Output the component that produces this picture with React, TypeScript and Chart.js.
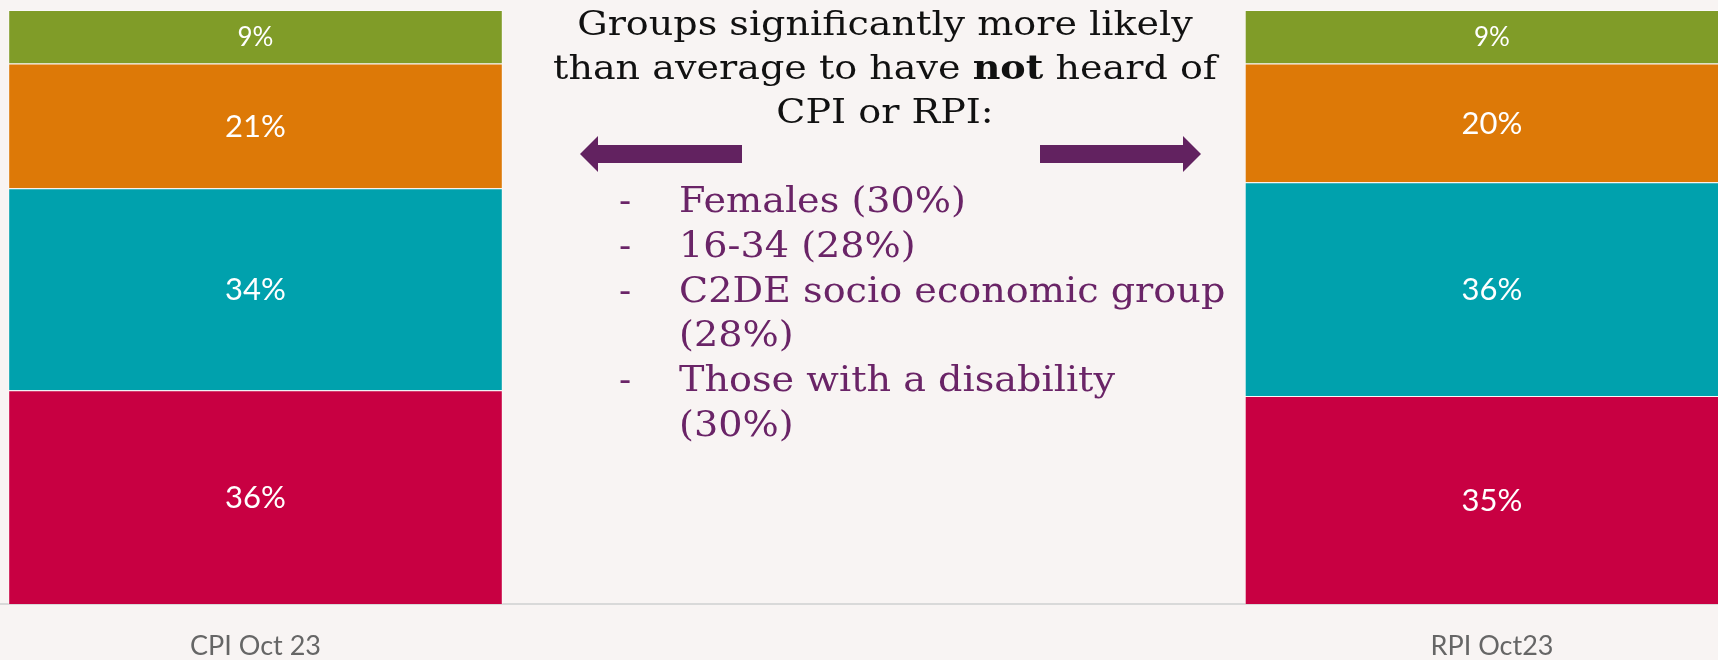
import React, { useEffect, useRef } from "react";
import { Chart, registerables } from "chart.js";

Chart.register(...registerables);

// ---- data ----
const categories: string[] = ["CPI Oct 23", "RPI Oct23"];
const seriesNames: string[] = ["Segment 1", "Segment 2", "Segment 3", "Segment 4"];
const series1Values: number[] = [36, 35]; // bottom (crimson)
const series2Values: number[] = [34, 36]; // teal
const series3Values: number[] = [21, 20]; // orange
const series4Values: number[] = [9, 9]; // top (green)
const seriesColors: string[] = ["#C80042", "#00A1AD", "#DD7907", "#809C28"];

const titleLines: string[] = ["Groups significantly more likely", "than average to have ", "CPI or RPI:"];
const bulletLines: string[][] = [
  ["Females (30%)"],
  ["16-34 (28%)"],
  ["C2DE socio economic group", "(28%)"],
  ["Those with a disability", "(30%)"],
];

const W = 1718;
const H = 660;

const segLabels = {
  id: "segLabels",
  afterDatasetsDraw(chart: any) {
    const ctx = chart.ctx;
    ctx.save();
    ctx.fillStyle = "#ffffff";
    ctx.textAlign = "center";
    ctx.textBaseline = "middle";
    chart.data.datasets.forEach((ds: any, di: number) => {
      const meta = chart.getDatasetMeta(di);
      meta.data.forEach((el: any, i: number) => {
        const v = ds.data[i].y;
        const p = el.getProps(["x", "y", "base"], true);
        ctx.font = `${v < 10 ? 26 : 31}px Lato`;
        ctx.fillText(v + "%", p.x, (p.y + p.base) / 2 + 1);
      });
    });
    ctx.restore();
  },
};

export default function App() {
  const ref = useRef<HTMLCanvasElement | null>(null);

  useEffect(() => {
    if (!ref.current) return;
    const all = [series1Values, series2Values, series3Values, series4Values];
    const chart = new Chart(ref.current, {
      type: "bar",
      data: {
        datasets: all.map((vals, k) => ({
          label: seriesNames[k],
          data: vals.map((v, i) => ({ x: i, y: v })),
          backgroundColor: seriesColors[k],
          borderColor: "rgba(255,255,255,0.45)",
          borderWidth: 1,
          stack: "s",
          categoryPercentage: 0.5,
          barPercentage: 0.8,
        })),
      },
      options: {
        responsive: false,
        animation: false,
        layout: { padding: { top: 10, bottom: 0, left: 0, right: 0 } },
        plugins: { legend: { display: false }, tooltip: { enabled: false } },
        scales: {
          x: {
            type: "linear",
            offset: false,
            min: -255.5 / 1236.5,
            max: (W - 255.5) / 1236.5,
            grid: { display: false, drawTicks: false, offset: false },
            border: { display: true, color: "#D9D9D9", width: 2 },
            afterBuildTicks: (s: any) => {
              s.ticks = categories.map((_, i) => ({ value: i }));
            },
            afterFit: (s: any) => {
              s.height = 56;
            },
            ticks: {
              autoSkip: false,
              maxRotation: 0,
              padding: 26,
              color: "#666666",
              font: { family: "Lato", size: 27 },
              callback: (v: any) => categories[v as number] ?? "",
            },
          },
          y: {
            display: false,
            stacked: true,
            min: 0,
            max: 100,
          },
        },
      },
      plugins: [segLabels],
    } as any);
    return () => chart.destroy();
  }, []);

  const serif = '"DejaVu Serif", serif';

  return (
    <div
      style={{
        position: "fixed",
        left: 0,
        top: 0,
        width: W,
        height: H,
        background: "#F8F4F3",
        overflow: "hidden",
      }}
    >
      <canvas ref={ref} width={W} height={H} style={{ position: "absolute", left: 0, top: 0, width: W, height: H }} />
      <div
        style={{
          position: "absolute",
          left: 885 - 450,
          top: 1,
          width: 900,
          textAlign: "center",
          fontFamily: serif,
          fontSize: 34,
          lineHeight: "44px",
          color: "#111111",
          whiteSpace: "nowrap",
          transform: "scaleX(1.12)",
          transformOrigin: "50% 0",
        }}
      >
        <div>{titleLines[0]}</div>
        <div>
          {titleLines[1]}
          <b>not</b> heard of
        </div>
        <div>{titleLines[2]}</div>
      </div>
      <svg width={W} height={H} style={{ position: "absolute", left: 0, top: 0 }}>
        <polygon points="580,154 598,136 598,145 742,145 742,163 598,163 598,172" fill="#622260" />
        <polygon points="1201,154 1183,136 1183,145 1040,145 1040,163 1183,163 1183,172" fill="#622260" />
      </svg>
      <div
        style={{
          position: "absolute",
          left: 619,
          top: 178,
          width: 700,
          fontFamily: serif,
          fontSize: 36,
          lineHeight: "44.8px",
          color: "#6A2467",
          whiteSpace: "nowrap",
        }}
      >
        {bulletLines.map((item, i) => (
          <div key={i} style={{ position: "relative", paddingLeft: 60 }}>
            <span style={{ position: "absolute", left: 0, top: 0 }}>-</span>
            {item.map((ln, j) => (
              <div key={j} style={{ transform: "scaleX(1.06)", transformOrigin: "0 0" }}>
                {ln}
              </div>
            ))}
          </div>
        ))}
      </div>
    </div>
  );
}
